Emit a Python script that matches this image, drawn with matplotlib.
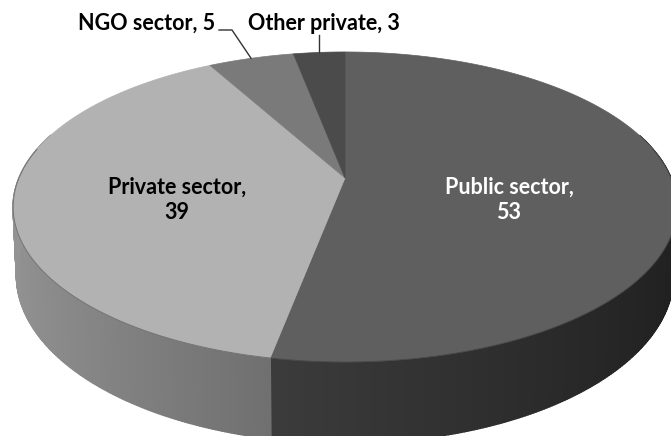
import numpy as np
import matplotlib
matplotlib.use("Agg")
import matplotlib.pyplot as plt
from matplotlib.collections import PolyCollection

# Survey shares by sector (percent)
sectors = ["Public sector", "Private sector", "NGO sector", "Other private"]
shares = [53, 39, 5, 3]
top_colors = ["#5f5f5f", "#b2b2b2", "#7a7a7a", "#4b4b4b"]
label_colors = ["white", "black", "black", "black"]

W, H = 671, 436
fig = plt.figure(figsize=(W / 100, H / 100), dpi=100)
ax = fig.add_axes([0, 0, 1, 1])
ax.set_xlim(0, W)
ax.set_ylim(H, 0)
ax.axis("off")

plt.rcParams["font.family"] = ["Lato", "DejaVu Sans"]

# Perspective view of a flat cylinder (pie seen from above at an angle)
cx, cy = 345.0, 178.0      # pie centre on the top face
A, B = 326.0, 149.6        # horizontal / vertical semi-axes
p = 0.187                  # perspective strength (far side smaller)
D = 66.0                   # thickness of the disc


def proj(theta, bottom=False):
    """theta: clockwise angle from 12 o'clock (far side)."""
    x = np.sin(theta)
    y = np.cos(theta)
    k = 1.0 / (1.0 + p * y)
    s = 0.99 if bottom else 1.0
    sx = cx + A * s * x * k
    sy = cy - B * y * k + (D * k if bottom else 0.0)
    return sx, sy


def shade(hex_color, f):
    r, g, b = matplotlib.colors.to_rgb(hex_color)
    return (min(r * f, 1), min(g * f, 1), min(b * f, 1))


total = float(sum(shares))
bounds = np.concatenate([[0.0], np.cumsum(shares) / total]) * 2 * np.pi

# side walls (front half only; the rest is hidden by the top)
for i in range(len(shares)):
    t0, t1 = bounds[i], bounds[i + 1]
    n = max(int((t1 - t0) / (2 * np.pi) * 720), 2)
    ts = np.linspace(t0, t1, n + 1)
    polys, cols = [], []
    for a, b in zip(ts[:-1], ts[1:]):
        m = 0.5 * (a + b)
        if np.cos(m) > 0.3:
            continue
        xa, ya = proj(a)
        xb, yb = proj(b)
        xa2, ya2 = proj(a, True)
        xb2, yb2 = proj(b, True)
        polys.append([(xa, ya), (xb, yb), (xb2, yb2), (xa2, ya2)])
        cols.append(shade(top_colors[i], 0.58 - 0.25 * np.sin(m)))
    if polys:
        ax.add_collection(PolyCollection(polys, facecolors=cols,
                                         edgecolors=cols, linewidths=1.1,
                                         antialiased=True))

# top faces
for i in range(len(shares)):
    t0, t1 = bounds[i], bounds[i + 1]
    ts = np.linspace(t0, t1, 200)
    xs, ys = proj(ts)
    verts = [(cx, cy)] + list(zip(xs, ys))
    ax.add_patch(plt.Polygon(verts, closed=True, facecolor=top_colors[i],
                             edgecolor=top_colors[i], linewidth=0.5))

# thin rim line along the front edge of the top face
tr = np.linspace(np.pi / 2 - 0.2, 3 * np.pi / 2 + 0.2, 400)
rx, ry = proj(tr)
ax.plot(rx, ry, color="#3a3a3a", lw=0.7, alpha=0.5)

# data labels
fs = 15.5
mids = 0.5 * (bounds[:-1] + bounds[1:])
ax.text(509, 200, f"{sectors[0]},\n{shares[0]}", color=label_colors[0],
        ha="center", va="center", fontsize=fs, fontweight="bold",
        linespacing=1.25)
ax.text(177, 200, f"{sectors[1]},\n{shares[1]}", color=label_colors[1],
        ha="center", va="center", fontsize=fs, fontweight="bold",
        linespacing=1.25)

# NGO label with elbow leader
nx, ny = proj(mids[2])
ax.text(215, 23, f"{sectors[2]}, {shares[2]}", color="black",
        ha="right", va="center", fontsize=fs, fontweight="bold")
ax.plot([219, 232, nx], [30, 30, ny], color="#333333", lw=1.0)

# Other private label with vertical leader
ox, oy = proj(mids[3])
ax.text(248, 23, f"{sectors[3]}, {shares[3]}", color="black",
        ha="left", va="center", fontsize=fs, fontweight="bold")
ax.plot([ox, ox], [35, oy], color="#333333", lw=1.0)

fig.savefig("out.png", dpi=100, facecolor="white")
